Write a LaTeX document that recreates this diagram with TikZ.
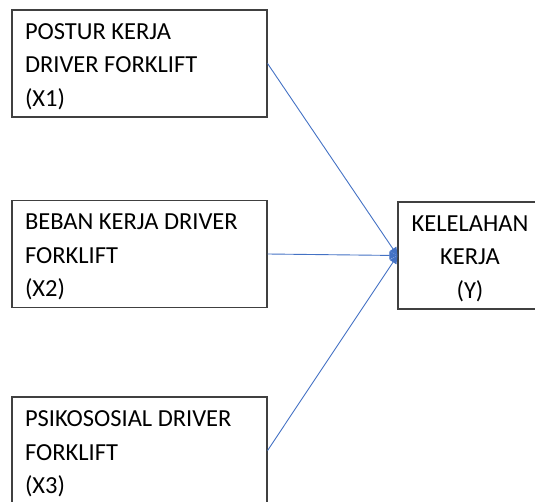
\documentclass[tikz,border=0pt]{standalone}
\usepackage{fontspec}
\setmainfont{Carlito}
\usetikzlibrary{arrows.meta}
\definecolor{linkblue}{RGB}{68,114,196}
\newcommand{\boxlines}[3]{\parbox[c][107pt][t]{#1}{#2\rule{0pt}{29.5pt}#3}}

\begin{document}
\begin{tikzpicture}[x=1pt,y=-1pt,
	var/.style={draw=black!75,line width=1.1pt,inner xsep=13pt,inner ysep=0pt,font=\fontsize{24.5}{33.5}\selectfont},
	link/.style={draw=linkblue,line width=0.9pt,-{Triangle[length=8pt,width=8pt]}}]
			\clip (0,0) rectangle (535,502);
%			\draw[help lines] (0,0) grid[step=50] (535,502);
			\node[var] (postur) at (139.5,63.5) {\boxlines{229pt}{\raggedright}{POSTUR KERJA\\DRIVER FORKLIFT\\(X1)}};
			\node[var] (beban) at (139.5,254) {\boxlines{229pt}{\raggedright}{BEBAN KERJA DRIVER\\FORKLIFT\\(X2)}};
			\node[var] (psiko) at (139.5,450.5) {\boxlines{229pt}{\raggedright}{PSIKOSOSIAL DRIVER\\FORKLIFT\\(X3)}};
			\node[var,inner xsep=0pt] (lelah) at (470,255.5) {\boxlines{144pt}{\centering}{KELELAHAN\\KERJA\\(Y)}};
			\draw[link] (postur.east) -- (lelah.west);
			\draw[link] (beban.east) -- (lelah.west);
			\draw[link] (psiko.east) -- (lelah.west);
		\end{tikzpicture}
\end{document}
